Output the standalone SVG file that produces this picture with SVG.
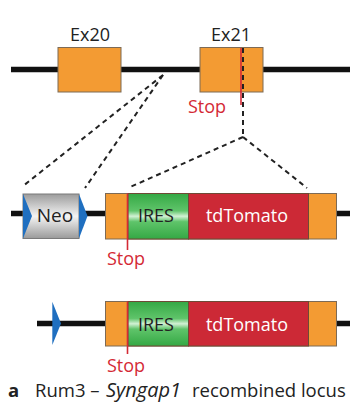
<svg xmlns="http://www.w3.org/2000/svg" width="358" height="403" viewBox="0 0 358 403">
  <style>
    .dna { stroke: #111; stroke-width: 5.5; fill: none; }
    .exon { fill: #f39b33; stroke: #7d6a55; stroke-width: 1; }
    .part { stroke: #6e4a35; stroke-width: 1; }
    .dash { stroke: #222; stroke-width: 2; stroke-dasharray: 5 4; fill: none; }
    .stopline { stroke: #d42a35; stroke-width: 1.6; }
    .lbl { font-family: "Open Sans", "Noto Sans", sans-serif; font-size: 18px; fill: #222; }
    .white { fill: #fff; }
    .stop { font-family: "Open Sans", "Noto Sans", sans-serif; font-size: 18px; fill: #d42a35; }
    .loxp { fill: #1f6fc0; }
  </style>
  <defs>
    <linearGradient id="gGray" x1="0" y1="0" x2="0" y2="1">
      <stop offset="0" stop-color="#9c9c9c"/>
      <stop offset="0.5" stop-color="#f4f4f4"/>
      <stop offset="1" stop-color="#9a9a9a"/>
    </linearGradient>
    <linearGradient id="gGreen" x1="0" y1="0" x2="0" y2="1">
      <stop offset="0" stop-color="#34a844"/>
      <stop offset="0.38" stop-color="#5fc46a"/>
      <stop offset="0.5" stop-color="#d2f1d4"/>
      <stop offset="0.62" stop-color="#5fc46a"/>
      <stop offset="1" stop-color="#34a844"/>
    </linearGradient>
  </defs>

  <!-- genomic locus -->
  <g id="locus">
    <line class="dna" x1="11" y1="69.5" x2="350" y2="69.5"/>
    <g id="ex20">
      <rect class="exon" x="58" y="47.5" width="63" height="44.5"/>
      <text class="lbl" x="90" y="41" text-anchor="middle">Ex20</text>
    </g>
    <g id="ex21">
      <rect class="exon" x="200" y="47.5" width="63" height="44.5"/>
      <text class="lbl" x="231" y="41" text-anchor="middle">Ex21</text>
      <line class="stopline" x1="241" y1="48" x2="241" y2="105"/>
      <text class="stop" x="207" y="113" text-anchor="middle">Stop</text>
    </g>
  </g>

  <!-- connectors -->
  <g id="connectors">
    <line class="dash" x1="163" y1="75" x2="23" y2="186"/>
    <line class="dash" x1="163" y1="75" x2="85" y2="188"/>
    <line class="dash" x1="243" y1="48" x2="243" y2="137"/>
    <line class="dash" x1="243" y1="137" x2="128" y2="188"/>
    <line class="dash" x1="243" y1="137" x2="307" y2="188"/>
  </g>

  <!-- targeted allele with Neo cassette -->
  <g id="targeted">
    <line class="dna" x1="11" y1="213.5" x2="350" y2="213.5"/>
    <g id="neo">
      <rect x="23" y="194" width="56" height="44.5" fill="url(#gGray)" stroke="#7a7a7a" stroke-width="1"/>
      <polygon class="loxp" points="23,194 32,216 23,238.5"/>
      <polygon class="loxp" points="79,194 87.5,216 79,238.5"/>
      <text class="lbl" x="55" y="222" text-anchor="middle" style="font-size:19px">Neo</text>
    </g>
    <g id="reporter1">
      <rect class="exon" x="105.5" y="193.5" width="231" height="45.5"/>
      <rect class="part" x="128" y="193.5" width="60.5" height="45.5" fill="url(#gGreen)"/>
      <rect class="part" x="188.5" y="193.5" width="120" height="45.5" fill="#cc2936"/>
      <text class="lbl" x="156" y="222" text-anchor="middle">IRES</text>
      <text class="lbl white" x="247" y="222" text-anchor="middle">tdTomato</text>
      <line class="stopline" x1="127.5" y1="193.5" x2="127.5" y2="250"/>
      <text class="stop" x="126" y="265" text-anchor="middle">Stop</text>
    </g>
  </g>

  <!-- recombined allele -->
  <g id="recombined">
    <line class="dna" x1="37" y1="323.5" x2="350" y2="323.5"/>
    <polygon class="loxp" points="52.3,301.7 61,323.5 52.3,345"/>
    <g id="reporter2">
      <rect class="exon" x="105.5" y="301.5" width="231" height="44.5"/>
      <rect class="part" x="128" y="301.5" width="60.5" height="44.5" fill="url(#gGreen)"/>
      <rect class="part" x="188.5" y="301.5" width="120" height="44.5" fill="#cc2936"/>
      <text class="lbl" x="156" y="331" text-anchor="middle">IRES</text>
      <text class="lbl white" x="247" y="331" text-anchor="middle">tdTomato</text>
      <line class="stopline" x1="127.5" y1="301.5" x2="127.5" y2="354"/>
      <text class="stop" x="126" y="371.5" text-anchor="middle">Stop</text>
    </g>
  </g>

  <!-- caption -->
  <g id="caption" font-family="'Open Sans', 'Noto Sans', sans-serif" font-size="18.5" fill="#222">
    <text x="8" y="397" font-weight="bold">a</text>
    <text x="35" y="397">Rum3 –</text>
    <text x="106" y="397" font-style="italic" font-size="20">Syngap1</text>
    <text x="192" y="397">recombined locus</text>
  </g>
</svg>
